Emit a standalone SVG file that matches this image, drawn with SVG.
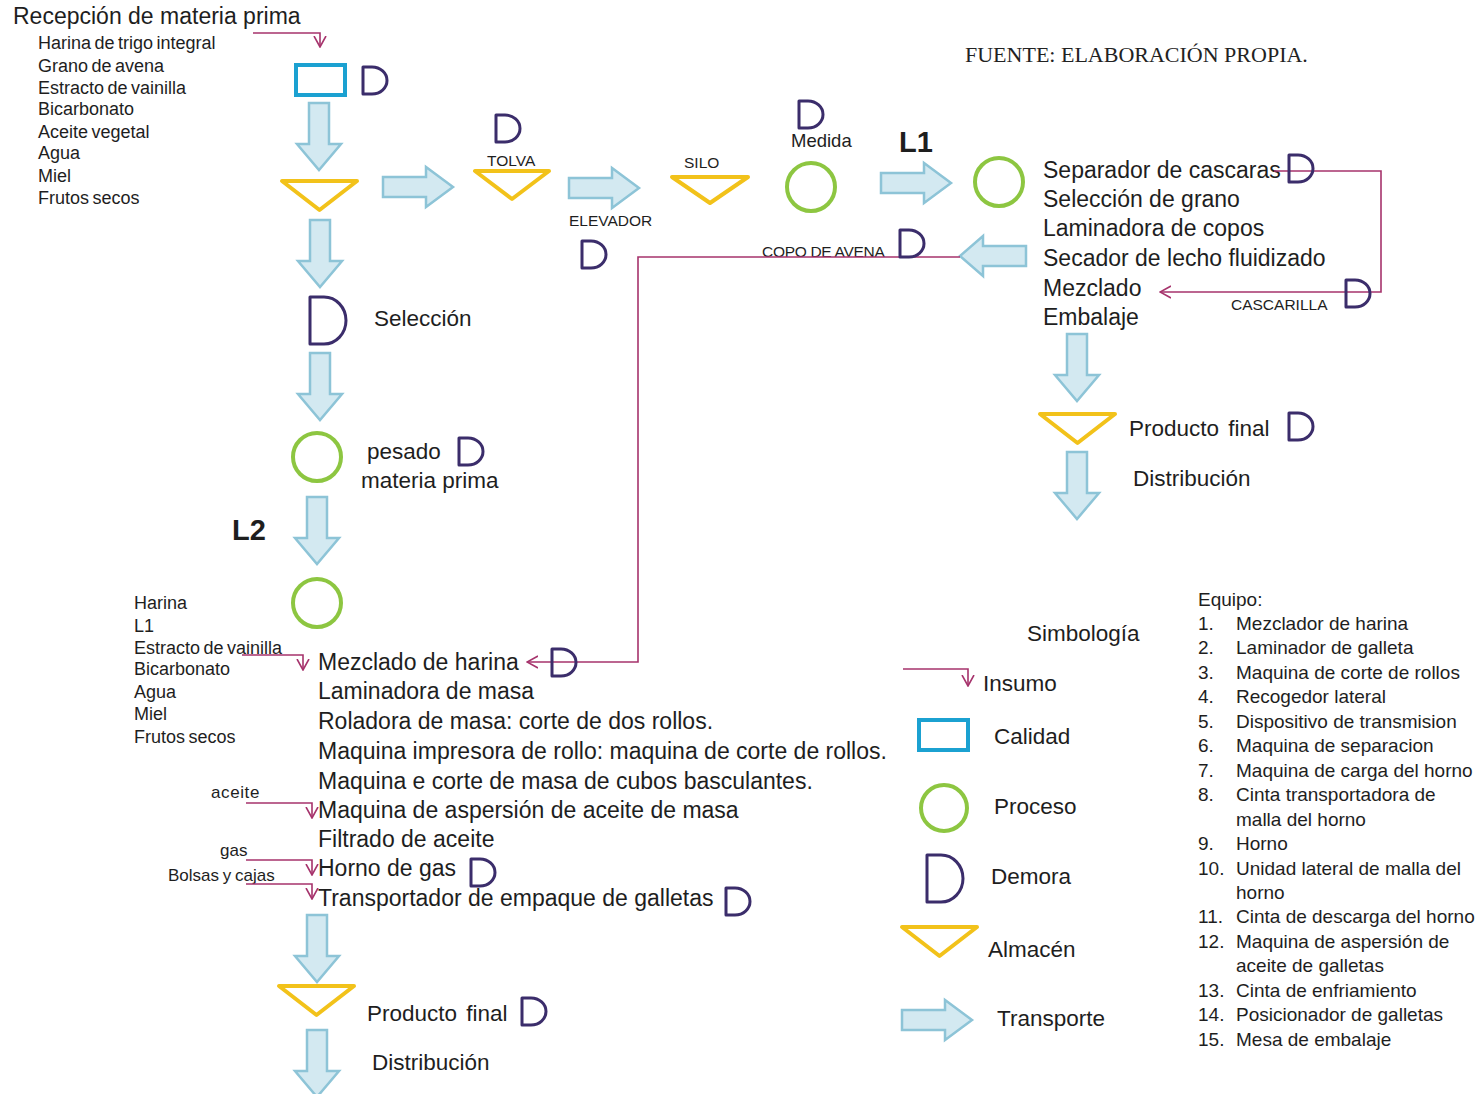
<svg xmlns="http://www.w3.org/2000/svg" xmlns:xlink="http://www.w3.org/1999/xlink" width="1475" height="1094" viewBox="0 0 1475 1094">
  <style>
    .t { font-family: "Liberation Sans", Arial, sans-serif; fill: #1e1e1e; }
    .proc { font-size: 23px; }
    .lbl { font-size: 22.5px; }
    .inp { font-size: 18px; word-spacing: -1.5px; }
    .cap { font-size: 15.5px; }
    .eq { font-size: 19px; }
    .big { font-size: 29px; font-weight: bold; }
    .serif { font-family: "Liberation Serif", "Times New Roman", serif; font-size: 22px; fill: #222; }
    .transport { fill: #d3e9f1; stroke: #8dc4d7; stroke-width: 2.5; stroke-linejoin: miter; }
    .store { fill: none; stroke: #f2c21a; stroke-width: 4; stroke-linejoin: round; }
    .proc-c { fill: none; stroke: #8dc641; stroke-width: 4; }
    .quality { fill: none; stroke: #1ba1d1; stroke-width: 4; }
    .delay { fill: none; stroke: #3b2d6b; stroke-width: 3; stroke-linejoin: round; }
    .feed { fill: none; stroke: #a6336c; stroke-width: 1.6; }
  </style>
  <defs>
    <!-- block arrows for transport -->
    <path id="arrowDown" class="transport" d="M-10,0 H10 V41 H22 L0,67 L-22,41 H-10 Z"/>
    <path id="arrowRight" class="transport" d="M0,-10 H43 V-20 L70,0 L43,20 V10 H0 Z"/>
    <!-- delay symbols -->
    <path id="delay" class="delay" d="M1,0 V27 H10 A15,13.5 0 0 0 10,0 Z"/>
    <path id="delayBig" class="delay" d="M1,0 V47 H15 A22,23.5 0 0 0 15,0 Z"/>
    <!-- storage triangle -->
    <path id="store" class="store" d="M0,0 H75 L37.5,29 Z"/>
    <!-- open chevron used on feed lines -->
    <marker id="vhead" viewBox="0 -7 12 14" refX="11" refY="0" markerWidth="12" markerHeight="14" orient="auto" markerUnits="userSpaceOnUse">
      <path d="M0,-6 L11,0 L0,6" fill="none" stroke="#a6336c" stroke-width="1.6"/>
    </marker>
  </defs>

  <rect width="1475" height="1094" fill="#ffffff"/>

  <!-- source note -->
  <text class="serif" x="965" y="62">FUENTE: ELABORACIÓN PROPIA.</text>

  <!-- raw material reception -->
  <g id="recepcion">
    <text class="t proc" x="13" y="24">Recepción de materia prima</text>
    <text class="t inp" x="38" y="49">Harina de trigo integral</text>
    <text class="t inp" x="38" y="72">Grano de avena</text>
    <text class="t inp" x="38" y="94">Estracto de vainilla</text>
    <text class="t inp" x="38" y="115">Bicarbonato</text>
    <text class="t inp" x="38" y="138">Aceite vegetal</text>
    <text class="t inp" x="38" y="159">Agua</text>
    <text class="t inp" x="38" y="182">Miel</text>
    <text class="t inp" x="38" y="204">Frutos secos</text>
  </g>

  <g id="calidad-recepcion">
    <rect class="quality" x="296" y="65" width="49" height="30"/>
    <use href="#delay" x="362" y="67"/>
  </g>
  <g id="t-down-1"><use href="#arrowDown" x="319" y="103"/></g>
  <g id="almacen-inicial"><use href="#store" x="282" y="181"/></g>

  <!-- oat line (L1) -->
  <g id="t-right-1"><use href="#arrowRight" x="383" y="187"/></g>
  <g id="tolva">
    <text class="t cap" x="487" y="166">TOLVA</text>
    <path class="store" d="M475,171 H549 L512,199 Z"/>
    <use href="#delay" x="495" y="115"/>
  </g>
  <g id="elevador">
    <use href="#arrowRight" x="569" y="188"/>
    <text class="t cap" x="569" y="226">ELEVADOR</text>
    <use href="#delay" x="581" y="241"/>
  </g>
  <g id="silo">
    <text class="t cap" x="684" y="168">SILO</text>
    <path class="store" d="M672,177 H748 L710,203 Z"/>
  </g>
  <g id="medida">
    <use href="#delay" x="798" y="101"/>
    <text class="t" x="791" y="147" style="font-size:18.5px">Medida</text>
    <circle class="proc-c" cx="811" cy="187" r="24"/>
  </g>
  <g id="l1-label"><text class="t big" x="899" y="152">L1</text></g>
  <g id="t-right-3"><use href="#arrowRight" x="881" y="183"/></g>
  <g id="proceso-avena">
    <circle class="proc-c" cx="999" cy="182" r="24"/>
    <text class="t proc" x="1043" y="178">Separador de cascaras</text>
    <text class="t proc" x="1043" y="207">Selección de grano</text>
    <text class="t proc" x="1043" y="236">Laminadora de copos</text>
    <text class="t proc" x="1043" y="266">Secador de lecho fluidizado</text>
    <text class="t proc" x="1043" y="296">Mezclado</text>
    <text class="t proc" x="1043" y="325">Embalaje</text>
  </g>
  <g id="t-left-copo">
    <path class="transport" d="M1026,246 H983 V236 L960,256 L983,276 V266 H1026 Z"/>
  </g>
  <g id="copo-avena">
    <text class="t cap" x="762" y="257" style="letter-spacing:-0.3px">COPO DE AVENA</text>
  </g>
  <g id="cascarilla">
    <text class="t cap" x="1231" y="310">CASCARILLA</text>
  </g>

  <g id="t-down-l1a"><use href="#arrowDown" x="1077" y="334"/></g>
  <g id="producto-final-l1">
    <use href="#store" x="1040" y="414"/>
    <text class="t lbl" x="1129" y="436" style="word-spacing:3px">Producto final</text>
    <use href="#delay" x="1288" y="413"/>
  </g>
  <g id="distribucion-l1">
    <use href="#arrowDown" x="1077" y="452"/>
    <text class="t lbl" x="1133" y="486">Distribución</text>
  </g>

  <!-- flour / biscuit line (L2) -->
  <g id="t-down-2"><use href="#arrowDown" x="320" y="220"/></g>
  <g id="seleccion">
    <use href="#delayBig" x="309" y="297"/>
    <text class="t lbl" x="374" y="326">Selección</text>
  </g>
  <g id="t-down-3"><use href="#arrowDown" x="320" y="353"/></g>
  <g id="pesado">
    <circle class="proc-c" cx="317" cy="457" r="24"/>
    <text class="t lbl" x="367" y="459">pesado</text>
    <use href="#delay" x="458" y="438"/>
    <text class="t lbl" x="361" y="488">materia prima</text>
  </g>
  <g id="l2-label"><text class="t big" x="232" y="540">L2</text></g>
  <g id="t-down-4"><use href="#arrowDown" x="317" y="497"/></g>
  <g id="proceso-galleta">
    <circle class="proc-c" cx="317" cy="603" r="24"/>
    <text class="t proc" x="318" y="670">Mezclado de harina</text>
    <text class="t proc" x="318" y="699">Laminadora de masa</text>
    <text class="t proc" x="318" y="729">Roladora de masa: corte de dos rollos.</text>
    <text class="t proc" x="318" y="759">Maquina impresora de rollo: maquina de corte de rollos.</text>
    <text class="t proc" x="318" y="789">Maquina e corte de masa de cubos basculantes.</text>
    <text class="t proc" x="318" y="818">Maquina de aspersión de aceite de masa</text>
    <text class="t proc" x="318" y="847">Filtrado de aceite</text>
    <text class="t proc" x="318" y="876">Horno de gas</text>
    <text class="t proc" x="318" y="906">Transportador de empaque  de galletas</text>
    <use href="#delay" x="470" y="859"/>
    <use href="#delay" x="725" y="888"/>
  </g>
  <g id="insumos-galleta">
    <text class="t inp" x="134" y="609">Harina</text>
    <text class="t inp" x="134" y="632">L1</text>
    <text class="t inp" x="134" y="654">Estracto de vainilla</text>
    <text class="t inp" x="134" y="675">Bicarbonato</text>
    <text class="t inp" x="134" y="698">Agua</text>
    <text class="t inp" x="134" y="720">Miel</text>
    <text class="t inp" x="134" y="743">Frutos secos</text>
    <text class="t" x="211" y="798" style="font-size:17px;letter-spacing:0.6px">aceite</text>
    <text class="t" x="220" y="856" style="font-size:17px">gas</text>
    <text class="t" x="168" y="881" style="font-size:17px;word-spacing:-1px">Bolsas y cajas</text>
  </g>
  <g id="t-down-5"><use href="#arrowDown" x="317" y="915"/></g>
  <g id="producto-final-l2">
    <use href="#store" x="279" y="986"/>
    <text class="t lbl" x="367" y="1021" style="word-spacing:3px">Producto final</text>
    <use href="#delay" x="521" y="998"/>
  </g>
  <g id="distribucion-l2">
    <use href="#arrowDown" x="317" y="1030"/>
    <text class="t lbl" x="372" y="1070">Distribución</text>
  </g>

  <!-- feed lines and recirculation -->
  <g id="connectors">
    <path class="feed" d="M253,33 H320 V47" marker-end="url(#vhead)"/>
    <path class="feed" d="M242,655 H303 V670" marker-end="url(#vhead)"/>
    <path class="feed" d="M246,803 H312 V818" marker-end="url(#vhead)"/>
    <path class="feed" d="M246,860 H312 V875" marker-end="url(#vhead)"/>
    <path class="feed" d="M246,884 H312 V899" marker-end="url(#vhead)"/>
    <!-- husk return to mixing -->
    <path class="feed" d="M1274,171 H1381 V292 H1160" marker-end="url(#vhead)"/>
    <!-- oat flakes sent to flour mixing -->
    <path class="feed" d="M960,257 H638 V662 H527" marker-end="url(#vhead)"/>
  </g>
  <!-- delays sitting on the lines -->
  <g id="demora-cascaras"><use href="#delay" x="1288" y="155"/></g>
  <g id="demora-cascarilla"><use href="#delay" x="1345" y="280"/></g>
  <g id="demora-copo"><use href="#delay" x="899" y="230"/></g>
  <g id="demora-mezclado"><use href="#delay" x="551" y="649"/></g>

  <!-- legend -->
  <g id="simbologia">
    <text class="t lbl" x="1027" y="641">Simbología</text>
    <path class="feed" d="M903,669 H968 V686" marker-end="url(#vhead)"/>
    <text class="t lbl" x="983" y="691">Insumo</text>
    <rect class="quality" x="919" y="720" width="49" height="30"/>
    <text class="t lbl" x="994" y="744">Calidad</text>
    <circle class="proc-c" cx="944" cy="808" r="23"/>
    <text class="t lbl" x="994" y="814">Proceso</text>
    <use href="#delayBig" x="926" y="855"/>
    <text class="t lbl" x="991" y="884">Demora</text>
    <use href="#store" x="902" y="927"/>
    <text class="t lbl" x="988" y="957">Almacén</text>
    <use href="#arrowRight" x="902" y="1020"/>
    <text class="t lbl" x="997" y="1026">Transporte</text>
  </g>

  <!-- equipment list -->
  <g id="equipo">
    <text class="t eq" x="1198" y="606">Equipo:</text>
    <g class="t eq">
      <text x="1198" y="630">1.</text><text x="1236" y="630">Mezclador de harina</text>
      <text x="1198" y="654">2.</text><text x="1236" y="654">Laminador de galleta</text>
      <text x="1198" y="679">3.</text><text x="1236" y="679">Maquina de corte de rollos</text>
      <text x="1198" y="703">4.</text><text x="1236" y="703">Recogedor  lateral</text>
      <text x="1198" y="728">5.</text><text x="1236" y="728">Dispositivo de transmision</text>
      <text x="1198" y="752">6.</text><text x="1236" y="752">Maquina de separacion</text>
      <text x="1198" y="777">7.</text><text x="1236" y="777">Maquina de carga del horno</text>
      <text x="1198" y="801">8.</text><text x="1236" y="801">Cinta transportadora de</text>
      <text x="1236" y="826">malla del  horno</text>
      <text x="1198" y="850">9.</text><text x="1236" y="850">Horno</text>
      <text x="1198" y="875">10.</text><text x="1236" y="875">Unidad lateral de malla del</text>
      <text x="1236" y="899">horno</text>
      <text x="1198" y="923">11.</text><text x="1236" y="923">Cinta de descarga del horno</text>
      <text x="1198" y="948">12.</text><text x="1236" y="948">Maquina de aspersión de</text>
      <text x="1236" y="972">aceite de galletas</text>
      <text x="1198" y="997">13.</text><text x="1236" y="997">Cinta de enfriamiento</text>
      <text x="1198" y="1021">14.</text><text x="1236" y="1021">Posicionador de galletas</text>
      <text x="1198" y="1046">15.</text><text x="1236" y="1046">Mesa de embalaje</text>
    </g>
  </g>
</svg>
